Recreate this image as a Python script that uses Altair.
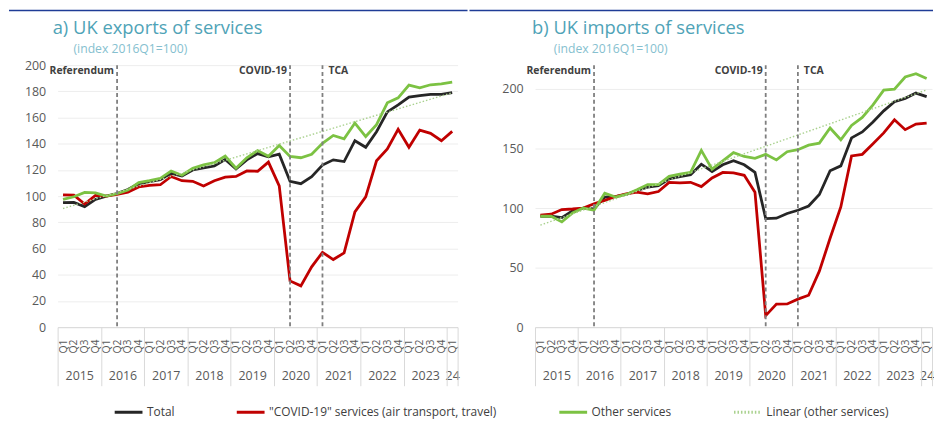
import altair as alt
import pandas as pd

years = ["2015", "2016", "2017", "2018", "2019", "2020", "2021", "2022", "2023", "24"]
quarters = ["Q1", "Q2", "Q3", "Q4"]
series_names = ["Total", "\"COVID-19\" services (air transport, travel)",
                "Other services", "Linear (other services)"]
series_colors = ["#262626", "#C00000", "#7CC243", "#A9D18E"]

event_names = ["Referendum", "COVID-19", "TCA"]
event_quarter = [5, 21, 24]
event_side = ["right", "right", "left"]

exp_total = [95, 95.2, 92, 97.5, 100, 102, 105, 109.5, 111, 112.5, 117.4, 115.4, 120,
             121.5, 123, 128, 120.7, 127.7, 132.5, 130, 132, 111.3, 109.5, 114.8, 123.7,
             127.7, 126.4, 142.3, 137.3, 149.2, 164.3, 169.6, 175.6, 176.8, 177.6, 177.7, 179]
exp_covid = [101, 100.7, 94, 100.5, 100, 101.3, 103, 107, 108.2, 108.7, 115, 111.8, 111.3,
             107.7, 111.8, 114.5, 115, 119.2, 119, 126, 107.8, 35.3, 31.5, 46, 57.1, 51.6,
             56.7, 88, 99.5, 127, 136, 151, 137.3, 150.4, 147.9, 142.3, 149.4]
exp_other = [97.5, 99.5, 102.8, 102.5, 100, 101.8, 104.6, 110.3, 111.8, 113.6, 119.2, 116,
             121.3, 123.8, 125.6, 130.6, 121.3, 129.3, 134.8, 130.5, 138.7, 130.3, 129.3,
             132, 140.3, 146.3, 143.8, 155.8, 145.5, 154.6, 171.2, 175, 184.7, 182.6, 185,
             185.7, 187]

imp_total = [93.1, 93.1, 92, 97.6, 100, 99.3, 109.2, 109.7, 111.4, 114.7, 117.5, 118.8,
             124.4, 126.3, 128, 136.8, 130.7, 136.3, 139.8, 136.3, 129.9, 91.2, 91.5, 95.4,
             98.1, 101.7, 111.4, 131.3, 135.4, 158.9, 163.9, 172.2, 181.6, 189.3, 192.1,
             196.5, 193.5]
imp_covid = [94, 94.8, 98.7, 99.2, 100, 103.6, 106.4, 109.7, 111.9, 113.3, 111.9, 113.9,
             121.6, 121.1, 121.6, 118, 125.2, 129.9, 129.5, 127.5, 113.3, 9.7, 19.3, 19.5,
             23.5, 26.8, 47, 74.6, 100.9, 143.7, 145.1, 154, 163.1, 174.1, 165.8, 170.5, 171.4]
imp_other = [93.1, 93.1, 88.4, 95.9, 100, 98.1, 112.5, 109.2, 111.4, 115.3, 119.7, 119.7,
             126.6, 128.5, 129.9, 148.4, 132.7, 139.6, 146.5, 143.3, 141.8, 145.1, 140.4,
             147.3, 149, 152.8, 154.5, 167.2, 157.3, 169.4, 176.1, 186.6, 199, 199.8, 210,
             212.8, 208.7]

N = len(exp_total)
idx = list(range(N))

FONT = "Open Sans"
GREY = "#595959"

q_expr = "[" + ",".join(f"'{q}'" for q in quarters) + "][datum.value % 4]"
year_expr = "[" + ",".join(f"'{y}'" for y in years) + "][floor(datum.value / 4)]"
year_pos = [4 * k + 1.5 for k in range(len(years) - 1)] + [N - 1]
sep_pos = [4 * k - 0.5 for k in range(len(years))] + [N - 0.5]

xs = alt.Scale(domain=[-0.5, N - 0.5], nice=False, zero=False)

quarter_axis = alt.Axis(values=idx, labelExpr=q_expr, labelAngle=270, labelFontSize=10.5,
                        labelColor=GREY, labelPadding=12, ticks=False, grid=False,
                        domain=True, domainColor="#D9D9D9", domainWidth=1, title=None,
                        labelOverlap=False, labelFlush=False, labelBound=False,
                        orient="bottom")
year_axis = alt.Axis(values=year_pos, labelExpr=year_expr, labelAngle=0, labelFontSize=12.5,
                     labelColor=GREY, labelPadding=43, ticks=False, domain=False,
                     grid=False, title=None, labelOverlap=False, labelFlush=False,
                     labelBound=False, orient="bottom")
sep_axis = alt.Axis(values=sep_pos, labels=False, ticks=True, tickSize=59,
                    tickColor="#D9D9D9", tickWidth=1, domain=False, grid=False,
                    title=None, orient="bottom")

events_df = pd.DataFrame({"name": event_names, "q": event_quarter, "side": event_side})
legend_df = pd.DataFrame({"series": series_names, "i": [0] * 4, "v": [0] * 4})

leg = alt.Legend(orient="none", legendX=56, legendY=334, direction="horizontal",
                 columns=4, title=None, symbolType="stroke", symbolSize=784,
                 labelFontSize=12, labelColor="#404040", labelFont=FONT,
                 labelLimit=400, columnPadding=56, labelOffset=3)


def panel(total, covid, other, title, subtitle, ymax, yticks, width,
          title_dx, sub_dx, title_y, sub_y, rule_x, rule_x2, with_legend):
    df = pd.DataFrame({"i": idx, "total": total, "covid": covid, "other": other})
    ys = alt.Scale(domain=[0, ymax], nice=False, zero=True)
    yaxis = alt.Axis(values=yticks, grid=True, gridColor="#EDEDED", domain=False,
                     ticks=False, labelPadding=12, labelFontSize=12.5, labelColor=GREY,
                     title=None)
    base = alt.Chart(df)
    l_total = base.mark_line(color=series_colors[0], strokeWidth=2.8).encode(
        x=alt.X("i:Q", scale=xs, axis=quarter_axis),
        y=alt.Y("total:Q", scale=ys, axis=yaxis))
    l_covid = base.mark_line(color=series_colors[1], strokeWidth=2.8).encode(
        x=alt.X("i:Q", scale=xs, axis=None),
        y=alt.Y("covid:Q", scale=ys, axis=yaxis))
    l_other = base.mark_line(color=series_colors[2], strokeWidth=2.8).encode(
        x=alt.X("i:Q", scale=xs, axis=None),
        y=alt.Y("other:Q", scale=ys, axis=yaxis))
    l_trend = base.transform_regression("i", "other", method="linear").mark_line(
        color=series_colors[3], strokeWidth=1.4, strokeDash=[1.5, 2]).encode(
        x=alt.X("i:Q", scale=xs, axis=None),
        y=alt.Y("other:Q", scale=ys, axis=yaxis))
    ev = alt.Chart(events_df)
    rules = ev.mark_rule(color="#7F7F7F", strokeWidth=1.8, strokeDash=[4, 3]).encode(
        x=alt.X("q:Q", scale=xs, axis=year_axis))
    t_right = ev.transform_filter(alt.datum.side == "right").mark_text(
        align="right", baseline="top", dx=-3, fontSize=10.5, fontWeight="bold",
        color="#404040", font=FONT).encode(
        x=alt.X("q:Q", scale=xs, axis=sep_axis), y=alt.value(1), text="name:N")
    t_left = ev.transform_filter(alt.datum.side == "left").mark_text(
        align="left", baseline="top", dx=6, fontSize=10.5, fontWeight="bold",
        color="#404040", font=FONT).encode(
        x=alt.X("q:Q", scale=xs, axis=None), y=alt.value(1), text="name:N")
    tdf = alt.Chart(pd.DataFrame({"t": [title], "s": [subtitle]}))
    t_title = tdf.mark_text(align="left", baseline="alphabetic", fontSize=18.5,
                            color="#4FA3B7", font=FONT).encode(
        x=alt.value(title_dx), y=alt.value(title_y), text="t:N")
    t_sub = tdf.mark_text(align="left", baseline="alphabetic", fontSize=12.3,
                          color="#86BFCF", font=FONT).encode(
        x=alt.value(sub_dx), y=alt.value(sub_y), text="s:N")
    blue = tdf.mark_rule(color="#1F3C96", strokeWidth=1.5).encode(
        x=alt.value(rule_x), x2=alt.value(rule_x2), y=alt.value(-55))
    layers = [l_total, l_covid, l_other, l_trend, rules, t_right, t_left,
              t_title, t_sub, blue]
    if with_legend:
        lg = alt.Chart(legend_df).mark_line().encode(
            x=alt.X("i:Q", scale=xs, axis=None),
            y=alt.Y("v:Q", scale=ys, axis=yaxis),
            color=alt.Color("series:N", scale=alt.Scale(domain=series_names,
                                                        range=series_colors), legend=leg),
            strokeDash=alt.StrokeDash("series:N", scale=alt.Scale(
                domain=series_names, range=[[1, 0], [1, 0], [1, 0], [1.5, 2]]), legend=leg),
            strokeWidth=alt.StrokeWidth("series:N", scale=alt.Scale(
                domain=series_names, range=[2.8, 2.8, 2.8, 1.4]), legend=leg),
        )
        layers.append(lg)
    return alt.layer(*layers).properties(width=width, height=264).resolve_axis(
        x="independent")


left = panel(exp_total, exp_covid, exp_other, "a) UK exports of services",
             "(index 2016Q1=100)", 200, list(range(0, 201, 20)), 403,
             -5, 16, -31, -12.5, -49, 413, True)
right = panel(imp_total, imp_covid, imp_other, "b) UK imports of services",
              "(index 2016Q1=100)", 220, list(range(0, 201, 50)), 400,
              -3, 19, -31, -12.5, -66, 401, False)

chart = alt.hconcat(left, right, spacing=0).properties(padding=0).configure(
    font=FONT).configure_view(stroke=None)

chart.save("out.html", embed_options={"renderer": "svg", "actions": False})
